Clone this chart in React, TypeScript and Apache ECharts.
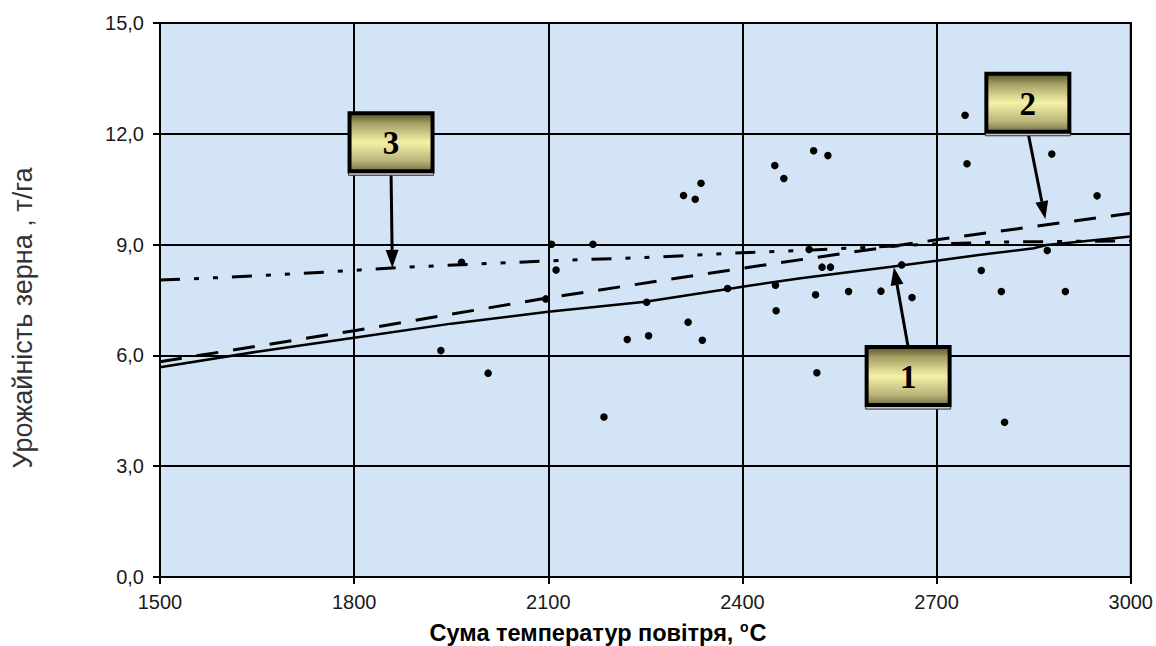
import React, { useEffect, useRef } from "react";
import * as echarts from "echarts";

// Axis ticks
const xTicks = [1500, 1800, 2100, 2400, 2700, 3000];
const xTickLabels = ["1500", "1800", "2100", "2400", "2700", "3000"];
const yTicks = [0, 3, 6, 9, 12, 15];
const yTickLabels = ["0,0", "3,0", "6,0", "9,0", "12,0", "15,0"];

// Observed yields (sum of temperatures, t/ha)
const observedPoints: [number, number][] = [
  [1934, 6.13], [1966, 8.52], [2007, 5.52], [2096, 7.53], [2105, 9.01],
  [2112, 8.31], [2169, 9.01], [2186, 4.33], [2222, 6.43], [2252, 7.44],
  [2255, 6.53], [2309, 10.33], [2316, 6.9], [2327, 10.23], [2336, 10.66],
  [2338, 6.41], [2377, 7.81], [2450, 11.14], [2451, 7.9], [2452, 7.21],
  [2464, 10.79], [2503, 8.87], [2510, 11.54], [2513, 7.64], [2515, 5.53],
  [2523, 8.39], [2532, 11.41], [2536, 8.39], [2564, 7.73], [2614, 7.74],
  [2646, 8.45], [2662, 7.57], [2744, 12.5], [2747, 11.19], [2769, 8.3],
  [2800, 7.73], [2805, 4.19], [2871, 8.84], [2878, 11.45], [2899, 7.73],
  [2948, 10.32],
];

// Curve 1 (solid)
const curve1: [number, number][] = [
  [1500, 5.68], [1650, 6.1], [1800, 6.48], [1950, 6.86], [2100, 7.18],
  [2250, 7.45], [2400, 7.86], [2490, 8.09], [2630, 8.4], [2700, 8.56],
  [2765, 8.72], [2850, 8.9], [2870, 8.99], [3000, 9.22],
];

// Curve 2 (dashed)
const curve2: [number, number][] = [
  [1500, 5.83], [1800, 6.67], [2100, 7.56], [2400, 8.36], [2700, 9.13], [3000, 9.85],
];

// Curve 3 (dash-dot-dot)
const curve3: [number, number][] = [
  [1500, 8.04], [1610, 8.12], [1770, 8.27], [1870, 8.38], [2100, 8.56],
  [2250, 8.65], [2400, 8.78], [2500, 8.85], [2600, 8.93], [2700, 9.02],
  [2800, 9.07], [3000, 9.1],
];

// Annotation callouts: label, box centre (data), arrow tip (data)
const calloutLabels = ["1", "2", "3"];
const calloutBoxes: [number, number][] = [[2656, 5.44], [2841, 12.84], [1857, 11.77]];
const calloutTips: [number, number][] = [[2634, 8.39], [2868, 9.69], [1859, 8.37]];

const FONT = 'Arial, "Liberation Sans", sans-serif';

export default function App() {
  const ref = useRef<HTMLDivElement>(null);

  useEffect(() => {
    if (!ref.current) return;
    const chart = echarts.init(ref.current, null, { renderer: "svg" });

    const boxGradient = new echarts.graphic.LinearGradient(0, 0, 0, 1, [
      { offset: 0, color: "#57542c" },
      { offset: 0.18, color: "#a6a164" },
      { offset: 0.5, color: "#f6f1a8" },
      { offset: 0.82, color: "#bab578" },
      { offset: 1, color: "#75714a" },
    ]);

    const option: any = {
      animation: false,
      backgroundColor: "#ffffff",
      grid: {
        left: 160,
        top: 23,
        right: 22,
        bottom: 69,
        show: true,
        backgroundColor: "#d2e4f6",
        borderColor: "#000",
        borderWidth: 2,
      },
      xAxis: {
        type: "value",
        min: xTicks[0],
        max: xTicks[xTicks.length - 1],
        interval: xTicks[1] - xTicks[0],
        axisLine: { show: true, onZero: false, lineStyle: { color: "#000", width: 2 } },
        axisTick: { show: true, length: 7, lineStyle: { color: "#000", width: 2 } },
        axisLabel: {
          margin: 15,
          fontSize: 20,
          color: "#1a1a1a",
          fontFamily: FONT,
          formatter: (v: number) => {
            const i = xTicks.indexOf(v);
            return i >= 0 ? xTickLabels[i] : String(v);
          },
        },
        splitLine: { show: true, lineStyle: { color: "#000", width: 2 } },
      },
      yAxis: {
        type: "value",
        min: yTicks[0],
        max: yTicks[yTicks.length - 1],
        interval: yTicks[1] - yTicks[0],
        axisLine: { show: true, onZero: false, lineStyle: { color: "#000", width: 2 } },
        axisTick: { show: true, length: 7, lineStyle: { color: "#000", width: 2 } },
        axisLabel: {
          margin: 16,
          fontSize: 20,
          color: "#1a1a1a",
          fontFamily: FONT,
          formatter: (v: number) => {
            const i = yTicks.indexOf(v);
            return i >= 0 ? yTickLabels[i] : String(v);
          },
        },
        splitLine: { show: true, lineStyle: { color: "#000", width: 2 } },
      },
      graphic: [
        {
          type: "text",
          x: 23,
          y: 318,
          rotation: Math.PI / 2,
          style: {
            text: "Урожайність зерна , т/га",
            font: `27px ${FONT}`,
            fill: "#333",
            align: "center",
            verticalAlign: "middle",
            textAlign: "center",
            textVerticalAlign: "middle",
          },
        },
        {
          type: "text",
          x: 598,
          y: 633,
          style: {
            text: "{a|Сума температур повітря, }{s|o}{a|C}",
            align: "center",
            verticalAlign: "middle",
            textAlign: "center",
            textVerticalAlign: "middle",
            rich: {
              a: { fontSize: 23.5, fontWeight: "bold", fontFamily: FONT, fill: "#000", color: "#000", lineHeight: 28 },
              s: {
                fontSize: 14,
                fontWeight: "bold",
                fontFamily: FONT,
                fill: "#000",
                color: "#000",
                verticalAlign: "bottom",
                padding: [0, 1, 13, 0],
              },
            },
          },
        },
      ],
      series: [
        {
          name: "1",
          type: "line",
          data: curve1,
          symbol: "none",
          lineStyle: { color: "#000", width: 2.5 },
          z: 3,
        },
        {
          name: "2",
          type: "line",
          data: curve2,
          symbol: "none",
          lineStyle: { color: "#000", width: 3, type: [22, 15] },
          z: 3,
        },
        {
          name: "3",
          type: "line",
          data: curve3,
          symbol: "none",
          lineStyle: { color: "#000", width: 3, type: [20, 14, 5, 14, 5, 14] },
          z: 3,
        },
        {
          name: "obs",
          type: "scatter",
          data: observedPoints,
          symbol: "circle",
          symbolSize: 7.5,
          itemStyle: { color: "#000", opacity: 1 },
          z: 4,
        },
        {
          name: "callouts",
          type: "custom",
          coordinateSystem: "cartesian2d",
          z: 10,
          clip: false,
          data: calloutBoxes.map((b, i) => [b[0], b[1], calloutTips[i][0], calloutTips[i][1]]),
          renderItem: (params: any, api: any) => {
            const idx = params.dataIndex;
            const c = api.coord([api.value(0), api.value(1)]);
            const t = api.coord([api.value(2), api.value(3)]);
            const w = 83;
            const h = 58;
            const down = t[1] > c[1];
            const sx = c[0];
            const sy = down ? c[1] + h / 2 : c[1] - h / 2;
            const dx = t[0] - sx;
            const dy = t[1] - sy;
            const len = Math.hypot(dx, dy) || 1;
            const ux = dx / len;
            const uy = dy / len;
            const headLen = 18;
            const headW = 6.5;
            const bx = t[0] - ux * headLen;
            const by = t[1] - uy * headLen;
            const px = -uy;
            const py = ux;
            return {
              type: "group",
              children: [
                {
                  type: "line",
                  shape: { x1: sx, y1: sy, x2: bx, y2: by },
                  style: { stroke: "#000", lineWidth: 3 },
                },
                {
                  type: "polygon",
                  shape: {
                    points: [
                      [t[0], t[1]],
                      [bx + px * headW, by + py * headW],
                      [bx - px * headW, by - py * headW],
                    ],
                  },
                  style: { fill: "#000" },
                },
                {
                  type: "rect",
                  shape: { x: c[0] - w / 2 - 1, y: c[1] + h / 2, width: w + 2, height: 4 },
                  style: { fill: "#c8c8c8", stroke: "#333", lineWidth: 1 },
                },
                {
                  type: "rect",
                  shape: { x: c[0] - w / 2, y: c[1] - h / 2, width: w, height: h },
                  style: { fill: boxGradient, stroke: "#000", lineWidth: 4 },
                },
                {
                  type: "text",
                  x: c[0],
                  y: c[1] + 1,
                  style: {
                    text: calloutLabels[idx],
                    font: 'bold 33px "Liberation Serif", "Times New Roman", serif',
                    fill: "#000",
                    align: "center",
                    verticalAlign: "middle",
                    textAlign: "center",
                    textVerticalAlign: "middle",
                  },
                },
              ],
            };
          },
        },
      ],
    };

    chart.setOption(option);
    return () => {
      chart.dispose();
    };
  }, []);

  return (
    <div
      ref={ref}
      style={{ position: "absolute", left: 0, top: 0, width: 1156, height: 646, background: "#fff" }}
    />
  );
}
